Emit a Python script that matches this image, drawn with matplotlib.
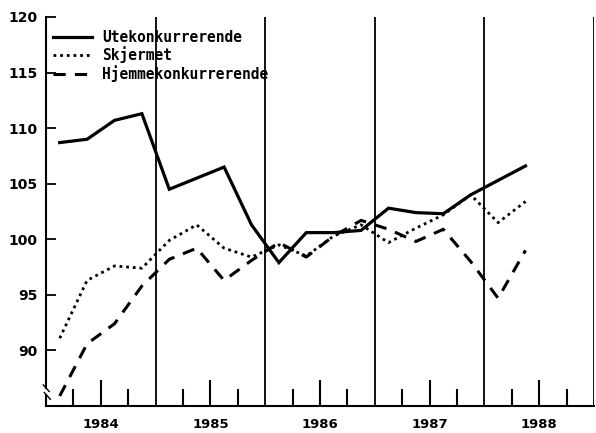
import matplotlib
matplotlib.use("Agg")
import matplotlib.pyplot as plt
import numpy as np

# kvartalsdata 1984K1 - 1988K2
years = [1984]*4 + [1985]*4 + [1986]*4 + [1987]*4 + [1988]*2
quarters = [1, 2, 3, 4]*4 + [1, 2]

ute = [108.7, 109.0, 110.7, 111.3, 104.5, 105.5, 106.5, 101.3, 97.9,
       100.6, 100.6, 100.8, 102.8, 102.4, 102.3, 104.0, 105.3, 106.6]
skjermet = [91.1, 96.3, 97.6, 97.4, 99.9, 101.3, 99.2, 98.4, 99.5,
            98.5, 100.3, 101.3, 99.7, 101.0, 102.2, 104.0, 101.5, 103.4]
hjemme = [85.9, 90.6, 92.4, 95.8, 98.2, 99.2, 96.3, 98.1, 99.7,
          98.4, 100.3, 101.7, 100.9, 99.8, 100.9, 98.0, 94.7, 99.0]

labels = ["Utekonkurrerende", "Skjermet", "Hjemmekonkurrerende"]
year_labels = [1984, 1985, 1986, 1987, 1988]
y_ticks = [90, 95, 100, 105, 110, 115, 120]

x = np.array(years) + (np.array(quarters) - 0.5) / 4

fig = plt.figure(figsize=(5.96, 4.33), dpi=100)
ax = fig.add_axes([46/596, 1 - 406/433, 548/596, 389/433])

ax.plot(x, ute, color="black", lw=2.3, solid_joinstyle="miter", label=labels[0])
ax.plot(x, skjermet, color="black", lw=2.0, linestyle=(0, (1, 1.4)), label=labels[1])
ax.plot(x, hjemme, color="black", lw=2.2, linestyle=(0, (4, 3)), label=labels[2])

# loddrette linjer ved årsskiftene
for yr in year_labels:
    ax.axvline(yr + 1, color="black", lw=1.3)

ax.set_xlim(1984, 1989)
ax.set_ylim(85, 120)

for s in ["top", "right", "left"]:
    ax.spines[s].set_visible(False)
ax.spines["bottom"].set_linewidth(1.5)

# venstre akse med brudd
ax.plot([1984, 1984], [86.6, 120], color="black", lw=1.5, clip_on=False)
ax.plot([1984, 1984], [85, 86.0], color="black", lw=1.5, clip_on=False)
ax.plot([1983.975, 1984.03], [86.9, 86.3], color="black", lw=1.0, clip_on=False)
ax.plot([1983.985, 1984.04], [86.2, 85.6], color="black", lw=1.0, clip_on=False)

ax.set_yticks(y_ticks)
ax.set_yticklabels([str(v) for v in y_ticks], fontsize=10, fontweight="bold")
ax.tick_params(axis="y", direction="in", length=7, width=1.3, pad=6, left=True)

# x-akse: lange merker midt i året, korte ved kvartalene
ax.set_xticks([yr + 0.5 for yr in year_labels])
ax.set_xticklabels([str(yr) for yr in year_labels], fontsize=9.5, fontweight="bold")
ax.set_xticks([yr + q / 4 for yr in year_labels for q in (1, 3)], minor=True)
ax.tick_params(axis="x", which="major", direction="in", length=19, width=1.5, pad=9)
ax.tick_params(axis="x", which="minor", direction="in", length=12, width=1.5)

leg = ax.legend(loc="upper left", bbox_to_anchor=(0.012, 0.967), frameon=False,
                prop={"family": "DejaVu Sans Mono", "weight": "bold", "size": 10.5},
                handlelength=2.7, handletextpad=0.7, labelspacing=0.12,
                borderpad=0, borderaxespad=0)

fig.savefig("out.png", dpi=100)
